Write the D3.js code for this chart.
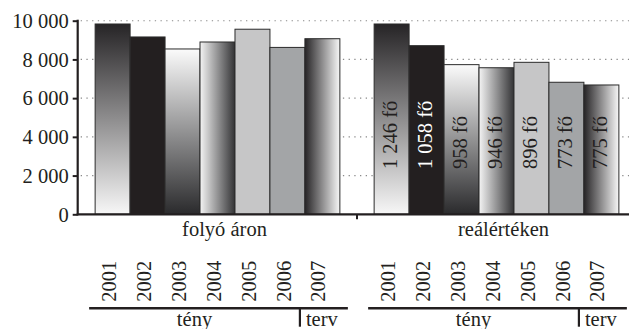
<!DOCTYPE html>
<html>
<head>
<meta charset="utf-8">
<script src="https://cdn.jsdelivr.net/npm/d3@7"></script>
<style>
  html, body { margin: 0; padding: 0; background: #fff; }
  svg { display: block; }
</style>
</head>
<body>
<svg id="chart" width="629" height="329"></svg>
<script>
// Groups (price basis) and years
const groups = ["folyó áron", "reálértéken"];
const years = ["2001", "2002", "2003", "2004", "2005", "2006", "2007"];
// Average values per year, at current prices and in real terms
const currentPrices = [9830, 9160, 8540, 8900, 9560, 8620, 9070];
const realValues = [9830, 8710, 7730, 7570, 7850, 6820, 6680];
// Headcount labels written inside the real-value bars
const headcountLabels = ["1 246 fő", "1 058 fő", "958 fő", "946 fő", "896 fő", "773 fő", "775 fő"];
// Y axis ticks
const yTicks = [0, 2000, 4000, 6000, 8000, 10000];
// Bottom table: actual vs plan
const periodLabels = ["tény", "terv"];

const seriesByGroup = [currentPrices, realValues];

const FONT = "'Liberation Serif', 'Times New Roman', Tinos, serif";
const INK = "#231f20";

const svg = d3.select("#chart");
const W = 629, H = 329;

// Fills per year: gradients and solids
const defs = svg.append("defs");
function linGrad(id, x1, y1, x2, y2, c1, c2) {
  const g = defs.append("linearGradient").attr("id", id)
    .attr("x1", x1).attr("y1", y1).attr("x2", x2).attr("y2", y2);
  g.append("stop").attr("offset", "0%").attr("stop-color", c1);
  g.append("stop").attr("offset", "100%").attr("stop-color", c2);
}
linGrad("gTopDark", 0, 0, 0, 1, "#262426", "#f7f7f7");
linGrad("gTopLight", 0, 0, 0, 1, "#fbfbfb", "#2a2a2c");
linGrad("gLeftLight", 0, 0, 1, 0, "#f4f4f4", "#333335");
linGrad("gLeftDark", 0, 0, 1, 0, "#262426", "#f7f7f7");
const fills = ["url(#gTopDark)", INK, "url(#gTopLight)", "url(#gLeftLight)", "#c6c6c7", "#a3a5a7", "url(#gLeftDark)"];
const labelColors = [INK, "#ffffff", INK, INK, INK, INK, INK];

// Text helper: serif face, fixed size
function styleText(sel, size) {
  return sel.style("font-family", FONT).style("font-size", size + "px");
}

// Scales
const y = d3.scaleLinear().domain([0, 10000]).range([214.3, 20.7]);
const xGroup = d3.scaleBand().domain(groups).range([78, 636]).paddingInner(0).paddingOuter(0);
const xYear = d3.scaleBand().domain(years).range([0, xGroup.bandwidth()]).paddingInner(0).paddingOuter(0.49);

const axisX = 77.7;
const baseY = y(0);

// Dotted gridlines
svg.append("g").selectAll("line")
  .data(yTicks.filter(d => d > 0))
  .join("line")
  .attr("x1", axisX + 3).attr("x2", W)
  .attr("y1", d => y(d)).attr("y2", d => y(d))
  .attr("stroke", "#8a8a8a").attr("stroke-width", 1.1)
  .attr("stroke-dasharray", "1.3,4.4");

// Bars
groups.forEach((grp, gi) => {
  const gx = xGroup(grp);
  const g = svg.append("g").attr("transform", `translate(${gx},0)`);
  g.selectAll("rect")
    .data(years.map((yr, i) => ({ yr, v: seriesByGroup[gi][i], i })))
    .join("rect")
    .attr("x", d => xYear(d.yr))
    .attr("y", d => y(d.v))
    .attr("width", xYear.bandwidth())
    .attr("height", d => baseY - y(d.v))
    .attr("fill", d => fills[d.i])
    .attr("stroke", "#2b2b2b")
    .attr("stroke-width", 1);
});

// Headcount labels inside real-value bars
{
  const gx = xGroup(groups[1]);
  svg.append("g").selectAll("text")
    .data(years.map((yr, i) => ({ yr, i })))
    .join("text")
    .attr("transform", d => `translate(${gx + xYear(d.yr) + xYear.bandwidth() / 2},169) rotate(-90)`)
    .attr("dy", "0.27em")
    .attr("text-anchor", "start")
    .call(styleText, 20.5)
    .style("fill", d => labelColors[d.i])
    .text(d => headcountLabels[d.i]);
}

// Y axis
const yAxis = d3.axisLeft(y).tickValues(yTicks).tickSize(5).tickPadding(4)
  .tickFormat(d => d3.format(",")(d).replace(/,/g, " "));
const yAxisG = svg.append("g").attr("transform", `translate(${axisX},0)`).call(yAxis);
yAxisG.select(".domain").attr("stroke", INK).attr("stroke-width", 2.2)
  .attr("d", `M0,${y(10000) - 1}V${baseY + 1}`);
yAxisG.selectAll(".tick line").attr("stroke", INK).attr("stroke-width", 2);
yAxisG.selectAll(".tick text").call(styleText, 20.5)
  .style("fill", INK).attr("dy", "0.33em");

// X axis (group categories)
svg.append("line")
  .attr("x1", axisX - 1).attr("x2", W)
  .attr("y1", baseY).attr("y2", baseY)
  .attr("stroke", INK).attr("stroke-width", 2.2);
svg.append("line")
  .attr("x1", xGroup(groups[1])).attr("x2", xGroup(groups[1]))
  .attr("y1", baseY).attr("y2", baseY + 5)
  .attr("stroke", INK).attr("stroke-width", 2);
svg.append("g").selectAll("text")
  .data(groups)
  .join("text")
  .attr("x", d => xGroup(d) + xGroup.bandwidth() / 2 + 7)
  .attr("y", 236)
  .attr("text-anchor", "middle")
  .call(styleText, 20.5)
  .style("fill", INK)
  .text(d => d);

// Year labels and actual/plan table below each group
groups.forEach((grp) => {
  const gx = xGroup(grp);
  const cx = yr => gx + xYear(yr) + xYear.bandwidth() / 2;
  const g = svg.append("g");
  g.selectAll("text.year")
    .data(years)
    .join("text")
    .attr("class", "year")
    .attr("transform", d => `translate(${cx(d)},301.7) rotate(-90)`)
    .attr("dy", "0.15em")
    .attr("text-anchor", "start")
    .call(styleText, 20.5)
    .style("fill", INK)
    .text(d => d);

  const lineX0 = gx + xYear(years[0]) - 6;
  const lineX1 = gx + xYear(years[years.length - 1]) + xYear.bandwidth() + 8;
  const divX = (cx(years[5]) + cx(years[6])) / 2 - 5;
  const lineY = 308.3;
  g.append("line")
    .attr("x1", lineX0).attr("x2", lineX1)
    .attr("y1", lineY).attr("y2", lineY)
    .attr("stroke", INK).attr("stroke-width", 2.5);
  g.append("line")
    .attr("x1", divX).attr("x2", divX)
    .attr("y1", lineY).attr("y2", 326.7)
    .attr("stroke", INK).attr("stroke-width", 2.2);
  g.append("text")
    .attr("x", (lineX0 + divX) / 2).attr("y", 326)
    .attr("text-anchor", "middle")
    .call(styleText, 20.5).style("fill", INK)
    .text(periodLabels[0]);
  g.append("text")
    .attr("x", divX + 6).attr("y", 326)
    .attr("text-anchor", "start")
    .call(styleText, 20.5).style("fill", INK)
    .text(periodLabels[1]);
});
</script>
</body>
</html>
